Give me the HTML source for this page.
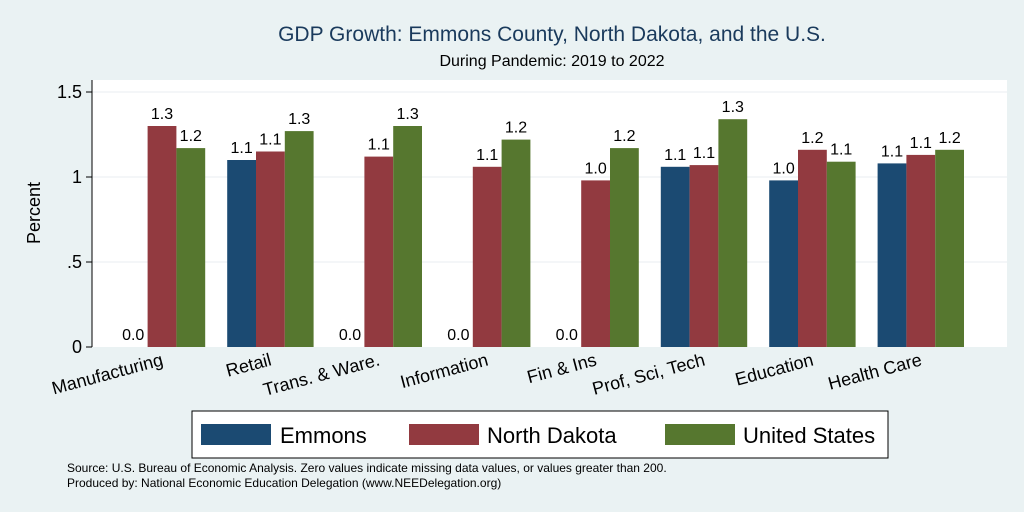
<!DOCTYPE html>
<html><head><meta charset="utf-8"><style>
body{margin:0;background:#eaf2f3;}
svg{display:block;font-family:"Liberation Sans",Arial,sans-serif;}
</style></head><body>
<svg id="c" width="1024" height="512" viewBox="0 0 1024 512">
<rect x="0" y="0" width="1024" height="512" fill="#eaf2f3"/>
<text x="552" y="41" text-anchor="middle" font-size="21" fill="#1a3a5c">GDP Growth: Emmons County, North Dakota, and the U.S.</text>
<text x="552" y="66" text-anchor="middle" font-size="16" fill="#000">During Pandemic: 2019 to 2022</text>
<rect x="92" y="80" width="915" height="267" fill="#fff"/>
<g id="grid"></g><g id="bars"></g><g id="xl"></g>
<line x1="92" y1="80" x2="92" y2="347" stroke="#000" stroke-width="1"/>
<text transform="translate(40,213) rotate(-90)" text-anchor="middle" font-size="18">Percent</text>
<rect x="192" y="411" width="696" height="47" fill="#fff" stroke="#000" stroke-width="1"/>
<g><rect x="201" y="424" width="70" height="21" fill="#1b4a72"/><text x="280" y="443" font-size="22">Emmons</text></g>
<g><rect x="409" y="424" width="70" height="21" fill="#923a40"/><text x="487" y="443" font-size="22">North Dakota</text></g>
<g><rect x="665" y="424" width="70" height="21" fill="#56772f"/><text x="743" y="443" font-size="22">United States</text></g>
<text x="67" y="472" font-size="12">Source: U.S. Bureau of Economic Analysis. Zero values indicate missing data values, or values greater than 200.</text>
<text x="67" y="487" font-size="12">Produced by: National Economic Education Delegation (www.NEEDelegation.org)</text>
</svg>
<script>
const categories=["Manufacturing","Retail","Trans. & Ware.","Information","Fin & Ins","Prof, Sci, Tech","Education","Health Care"];
const emmons=[0,1.10,0,0,0,1.06,0.98,1.08];
const northDakota=[1.30,1.15,1.12,1.06,0.98,1.07,1.16,1.13];
const unitedStates=[1.17,1.27,1.30,1.22,1.17,1.34,1.09,1.16];
const yTicks=[0,0.5,1,1.5];
const yTickLabels=["0",".5","1","1.5"];
const NS="http://www.w3.org/2000/svg";
const y=v=>347-v*170;
const gx=i=>162+i*108.4;
function mk(t,a,p){const e=document.createElementNS(NS,t);for(const k in a)e.setAttribute(k,a[k]);p.appendChild(e);return e;}
const grid=document.getElementById('grid'),bars=document.getElementById('bars'),xl=document.getElementById('xl');
yTicks.forEach((t,i)=>{
 if(t>0){const l=mk('line',{x1:92,x2:1007,y1:y(t),y2:y(t),stroke:'#e8eef0','stroke-width':1},grid);
 
 }
 mk('line',{x1:86,x2:92,y1:y(t),y2:y(t),stroke:'#000'},grid);
 const tx=mk('text',{x:82,y:y(t)+6,'text-anchor':'end','font-size':18},grid);tx.textContent=yTickLabels[i];
 
 
});
const series=[[emmons,'#1b4a72',-1],[northDakota,'#923a40',0],[unitedStates,'#56772f',1]];
categories.forEach((c,i)=>{
 series.forEach(([vals,col,off])=>{
  const cx=gx(i)+off*28.8, v=vals[i];
  const r=mk('rect',{x:cx-14.4,y:y(v),width:28.8,height:347-y(v),fill:col},bars);
  
  
  const t=mk('text',{x:cx,y:y(v)-7,'text-anchor':'middle','font-size':16},bars);t.textContent=v.toFixed(1);
  
  
 });
 const t=mk('text',{transform:`translate(${gx(i)+2},365) rotate(-15)`,'text-anchor':'end','font-size':18},xl);t.textContent=c;
 
 
});
</script>
</body></html>
